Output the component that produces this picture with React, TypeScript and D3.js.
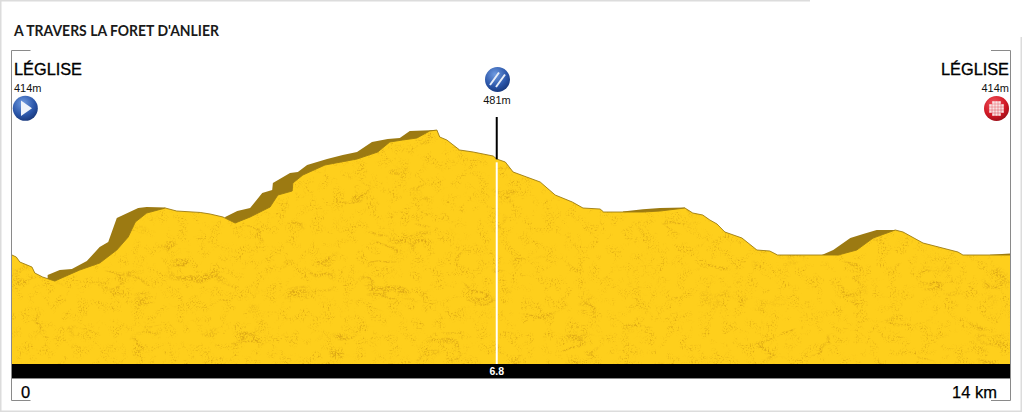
import React from "react";
import * as d3 from "d3";

const title = "A TRAVERS LA FORET D'ANLIER";
const frontKm = [0,0.06,0.11,0.28,0.32,0.43,0.6,0.79,0.95,1.23,1.47,1.63,1.73,1.89,2.15,2.31,2.64,2.78,2.96,3.13,3.34,3.62,3.73,3.93,3.94,4.08,4.39,4.84,5.13,5.3,5.48,5.68,5.86,5.96,6.0,6.1,6.28,6.47,6.75,6.8,6.92,7.03,7.22,7.41,7.62,7.86,8.01,8.25,8.3,8.57,8.85,9.09,9.44,9.55,9.69,9.79,9.89,10.0,10.24,10.45,10.63,10.74,11.59,11.85,12.08,12.39,12.5,12.78,13.27,13.34,13.72,14];
const frontElev = [414,412.6,409.1,405.6,401.4,398.6,395.8,400,403.5,408.4,417.5,426.6,437.1,443.4,446.9,444.8,443.8,442.7,440.6,436.4,440.6,447.6,456,458.8,464.4,470,477,481.2,486.1,493.1,494.5,495.9,500.8,501.5,496.6,494.5,487.5,486.1,483.3,481.2,479.1,472.1,468.6,465.1,456,451.1,446.9,446.2,444.1,444.1,444.1,444.8,446.9,443.4,442,438.5,435.7,430.1,425.9,417.5,416.8,414,414,417.5,425.9,431.5,430.1,422.4,416.1,414,414,414];
const shadeKmA = [0.5,0.67,0.84,1.05,1.23,1.35,1.47,1.77,1.89,2.15];
const shadeElevA = [400,403.5,404.2,409.8,419.6,423.1,439.9,446.9,447.6,447.2];
const shadeKmB = [2.99,3.16,3.34,3.51,3.65,3.66,3.9,4.01,4.14,4.42,4.64,4.84,5.05,5.27,5.44,5.58,5.96];
const shadeElevB = [440.6,444.8,446.9,457.4,459.5,464.4,471.4,472.1,477,481.2,484,486.1,493.1,495.2,495.9,500.8,501.5];
const shadeKmC = [8.57,8.85,9.09,9.44];
const shadeElevC = [444.4,446,446.9,447.2];
const shadeKmD = [11.36,11.52,11.76,11.94,12.13,12.39];
const shadeElevD = [414,417.5,425.9,428.7,431.5,431.5];
const shadeKmE = [13.72,14];
const shadeElevE = [414.2,415];
const places = ["LÉGLISE", "LÉGLISE"];
const placeElev = ["414m", "414m"];
const passKm = 6.8;
const passElev = "481m";
const passLabel = "6.8";
const distLabels = ["0", "14 km"];

const W = 1022, H = 412;
const x = d3.scaleLinear().domain([0, 14]).range([12, 1010]);
const y = d3.scaleLinear().domain([338, 502]).range([363.6, 129.3]);
const area = (km: number[], e: number[]) =>
  d3.area<number>().x((_, i) => x(km[i])).y0(364).y1(d => y(d))(e) as string;
const line = (km: number[], e: number[]) =>
  d3.line<number>().x((_, i) => x(km[i])).y(d => y(d))(e) as string;
const shades: [number[], number[]][] = [[shadeKmA, shadeElevA], [shadeKmB, shadeElevB], [shadeKmC, shadeElevC], [shadeKmD, shadeElevD], [shadeKmE, shadeElevE]];
const sans = "'Liberation Sans', Arial, sans-serif";
const grey = "#8a8a8a";
const shade = "#9c7a12";
const checks = [-6, -3, 0, 3, 6];

export default function App() {
  const px = x(passKm);
  return (
    <svg width={W} height={H} viewBox={`0 0 ${W} ${H}`} style={{ position: "fixed", left: 0, top: 0, background: "#fff" }}>
      <defs>
        <radialGradient id="blue" cx="0.4" cy="0.3" r="0.8">
          <stop offset="0" stopColor="#6f9be0" /><stop offset="0.6" stopColor="#2a55a8" /><stop offset="1" stopColor="#14306f" />
        </radialGradient>
        <radialGradient id="red" cx="0.4" cy="0.3" r="0.8">
          <stop offset="0" stopColor="#f0555f" /><stop offset="0.6" stopColor="#d01825" /><stop offset="1" stopColor="#8a0c14" />
        </radialGradient>
        <filter id="rock" x="0" y="0" width="100%" height="100%" colorInterpolationFilters="sRGB">
          <feTurbulence type="fractalNoise" baseFrequency="0.6" numOctaves="2" seed="4" result="fine" />
          <feTurbulence type="fractalNoise" baseFrequency="0.09" numOctaves="2" seed="31" result="mid" />
          <feColorMatrix in="mid" type="matrix" values="0 0 0 0 0  0 0 0 0 0  0 0 0 0 0  5 0 0 0 -2.35" result="midA" />
          <feColorMatrix in="fine" type="matrix" values="0 0 0 0 0  0 0 0 0 0  0 0 0 0 0  3 0 0 0 -1.5" result="speckA" />
          <feComposite in="speckA" in2="midA" operator="in" result="speckM" />
          <feFlood floodColor="#d9a312" floodOpacity="0.85" result="speckCol" />
          <feComposite in="speckCol" in2="speckM" operator="in" result="speck" />

          <feTurbulence type="fractalNoise" baseFrequency="0.014 0.03" numOctaves="3" seed="23" result="coarse" />
          <feColorMatrix in="coarse" type="matrix" values="0 0 0 0 0  0 0 0 0 0  0 0 0 0 0  1 0 0 0 0" result="c1" />
          <feComponentTransfer in="c1" result="band">
            <feFuncA type="table" tableValues="0 0 0 0 0 0 0 0 0 0 0 0 1 0 0 0 0 0 0 0 0 0 0 0 0" />
          </feComponentTransfer>
          <feTurbulence type="fractalNoise" baseFrequency="0.03" numOctaves="2" seed="7" result="patch" />
          <feColorMatrix in="patch" type="matrix" values="0 0 0 0 0  0 0 0 0 0  0 0 0 0 0  6 0 0 0 -3.0" result="patchA" />
          <feComposite in="band" in2="patchA" operator="in" result="bandBroken" />
          <feColorMatrix in="fine" type="matrix" values="0 0 0 0 0  0 0 0 0 0  0 0 0 0 0  4 0 0 0 -1.5" result="grainA" />
          <feComposite in="bandBroken" in2="grainA" operator="in" result="veinA" />
          <feFlood floodColor="#d6a014" floodOpacity="0.8" result="veinCol" />
          <feComposite in="veinCol" in2="veinA" operator="in" result="vein" />

          <feMerge result="tex"><feMergeNode in="speck" /><feMergeNode in="vein" /></feMerge>
          <feComposite in="tex" in2="SourceAlpha" operator="in" result="texClip" />
          <feMerge><feMergeNode in="SourceGraphic" /><feMergeNode in="texClip" /></feMerge>
        </filter>
      </defs>

      <rect x={0} y={0} width={1.5} height={H} fill="#dcdcdc" />
      <rect x={0} y={0} width={810} height={1.5} fill="#dcdcdc" />
      <rect x={0} y={410.5} width={1022} height={1.5} fill="#dcdcdc" />
      <rect x={1020.5} y={37} width={1.5} height={375} fill="#dcdcdc" />

      <text x={14} y={35.5} fontFamily="Lato, sans-serif" fontWeight={700} fontSize={15} textLength={205} lengthAdjust="spacingAndGlyphs" fill="#1a1a1a">{title}</text>

      {shades.map(([km, e], i) => <path key={i} d={area(km, e)} fill={shade} />)}
      <path d={area(frontKm, frontElev)} fill="#fecf1c" filter="url(#rock)" />
      <path d={line(frontKm, frontElev)} fill="none" stroke={shade} strokeWidth={0.9} />

      <rect x={11.5} y={364} width={999} height={14} fill="#000" />
      <line x1={11} x2={1010} y1={378.5} y2={378.5} stroke={grey} strokeWidth={1} />
      <line x1={px} x2={px} y1={117} y2={y(481)} stroke="#000" strokeWidth={2} />
      <line x1={px} x2={px} y1={y(481) + 3} y2={364} stroke="#fff" strokeWidth={2} />
      <text x={px} y={375} textAnchor="middle" fontFamily={sans} fontWeight={700} fontSize={10.5} fill="#fff">{passLabel}</text>

      <path d="M30.5 50.5H11.5V400.5H30.5" fill="none" stroke={grey} strokeWidth={1} />
      <path d="M991 50.5H1010.5V400.5H991" fill="none" stroke={grey} strokeWidth={1} />

      <text x={14} y={75} fontFamily={sans} fontSize={16} fill="#000" stroke="#000" strokeWidth={0.3} textLength={68} lengthAdjust="spacingAndGlyphs">{places[0]}</text>
      <text x={14} y={92} fontFamily={sans} fontSize={11} fill="#111">{placeElev[0]}</text>
      <text x={941} y={75} fontFamily={sans} fontSize={16} fill="#000" stroke="#000" strokeWidth={0.3} textLength={68} lengthAdjust="spacingAndGlyphs">{places[1]}</text>
      <text x={1009} y={92} textAnchor="end" fontFamily={sans} fontSize={11} fill="#111">{placeElev[1]}</text>

      <circle cx={25.3} cy={108.3} r={12.5} fill="url(#blue)" />
      <path d="M21 100.5L32 108.3L21 116Z" fill="#eef3fb" />

      <circle cx={497.5} cy={79.5} r={12.5} fill="url(#blue)" />
      <path d="M490 85L499 72.5M496 87L505 74.5" stroke="#e8eef8" strokeWidth={2} fill="none" />
      <text x={497} y={104} textAnchor="middle" fontFamily={sans} fontSize={11} fill="#111">{passElev}</text>

      <circle cx={996.5} cy={108.5} r={12.5} fill="url(#red)" />
      {checks.map(a => checks.map(b => (Math.abs(a) + Math.abs(b) < 12 ? <rect key={`${a}_${b}`} x={996.5 + a - 1.3} y={108.5 + b - 1.3} width={2.6} height={2.6} fill="#f8e4e4" /> : null)))}

      <text x={25.5} y={397.5} textAnchor="middle" fontFamily={sans} fontSize={16.5} fill="#000" stroke="#000" strokeWidth={0.25}>{distLabels[0]}</text>
      <text x={997} y={397.5} textAnchor="end" fontFamily={sans} fontSize={16.5} fill="#000" stroke="#000" strokeWidth={0.25}>{distLabels[1]}</text>
    </svg>
  );
}
